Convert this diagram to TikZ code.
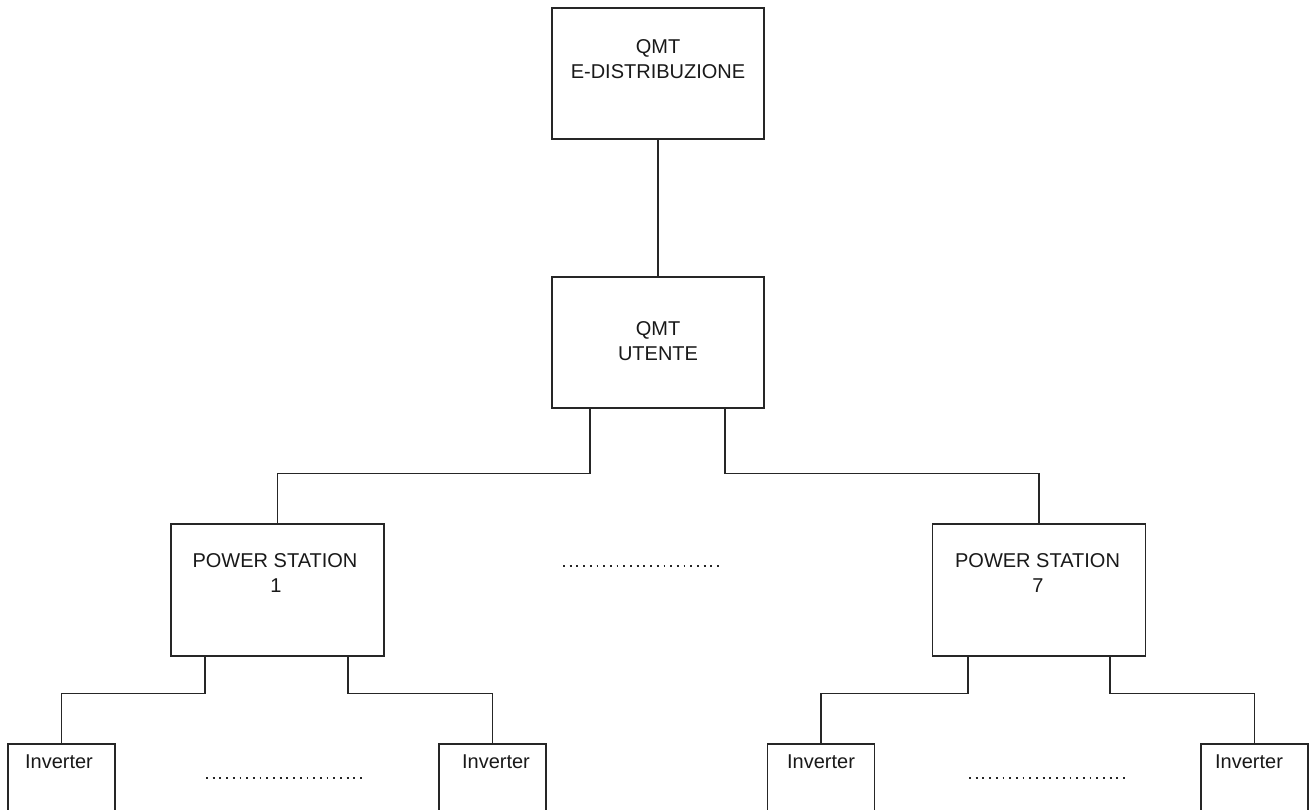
\documentclass[tikz,border=0pt]{standalone}
\usepackage{fontspec}
\setmainfont{Liberation Sans}
\begin{document}
\begin{tikzpicture}[x=1pt,y=-1pt]
\tikzset{
 box/.style={draw=black!85, line width=1.1pt, fill=white, inner sep=0pt},
 bigbox/.style={box, minimum width=212pt, minimum height=131pt},
 psbox/.style={box, minimum width=213pt, minimum height=132pt},
 invbox/.style={box, minimum width=107pt, minimum height=86pt},
 txt/.style={font=\fontsize{20}{24}\selectfont, anchor=base, inner sep=0pt, text=black!90},
 wire/.style={draw=black!85, line width=1.1pt},
 dots/.style={draw=black!85, line width=1.8pt, dash pattern=on 1.8pt off 4.9pt}
}
\useasboundingbox (0,0) rectangle (1311,809);
\clip (0,0) rectangle (1311,809);
\fill[white] (0,0) rectangle (1311,809);

% boxes
\node[bigbox] (qmtd) at (658,73.5) {};
\node[bigbox] (qmtu) at (658,342.5) {};
\node[psbox] (ps1) at (277.5,590) {};
\node[psbox] (ps7) at (1039,590) {};
\node[invbox] (inv1) at (61.5,787) {};
\node[invbox] (inv2) at (492.5,787) {};
\node[invbox] (inv3) at (821,787) {};
\node[invbox] (inv4) at (1254.5,787) {};

% texts
\node[txt] (qmtdA) at (658,53) {QMT};
\node[txt] (qmtdB) at (658,78) {E-DISTRIBUZIONE};
\node[txt] (qmtuA) at (658,335) {QMT};
\node[txt] (qmtuB) at (658,360) {UTENTE};
\node[txt] (ps1A) at (275,567) {POWER STATION};
\node[txt] (ps1B) at (276,592) {1};
\node[txt] (ps7A) at (1037.5,567) {POWER STATION};
\node[txt] (ps7B) at (1038,592) {7};
\node[txt] (inv1t) at (59,768) {Inverter};
\node[txt] (inv2t) at (496,768) {Inverter};
\node[txt] (inv3t) at (821,768) {Inverter};
\node[txt] (inv4t) at (1249,768) {Inverter};

% connectors
\draw[wire] (qmtd) -- (qmtu);
\draw[wire] ([xshift=-68pt]qmtu.south) -- ++(0,65) -| (ps1.north);
\draw[wire] ([xshift=67pt]qmtu.south) -- ++(0,65) -| (ps7.north);
\draw[wire] ([xshift=-72.5pt]ps1.south) -- ++(0,37) -| (inv1.north);
\draw[wire] ([xshift=70.5pt]ps1.south) -- ++(0,37) -| (inv2.north);
\draw[wire] ([xshift=-71pt]ps7.south) -- ++(0,37) -| (inv3.north);
\draw[wire] ([xshift=71pt]ps7.south) -- ++(0,37) -| (inv4.north);

% dotted ellipses
\draw[dots] (563,566) -- (720,566);
\draw[dots] (206,778) -- (362,778);
\draw[dots] (969,778) -- (1125,778);
\end{tikzpicture}
\end{document}
